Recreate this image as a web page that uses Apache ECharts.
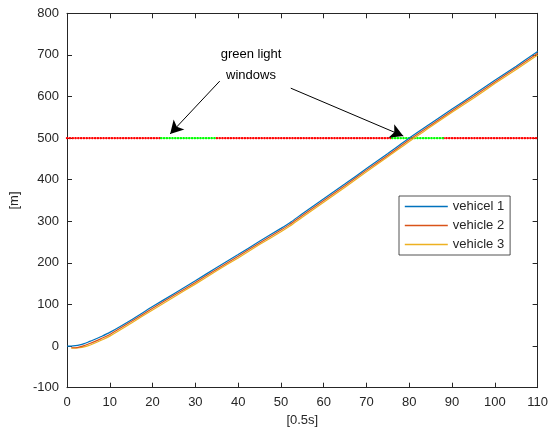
<!DOCTYPE html>
<html>
<head>
<meta charset="utf-8">
<script src="https://cdn.jsdelivr.net/npm/echarts@6/dist/echarts.min.js"></script>
<style>
  html, body { margin: 0; padding: 0; background: #fff; }
  #chart { width: 551px; height: 435px; }
</style>
</head>
<body>
<div id="chart"></div>
<script>
// time axis in [0.5s] steps, position in [m]
const xTicks = [0, 10, 20, 30, 40, 50, 60, 70, 80, 90, 100, 110];
const yTicks = [-100, 0, 100, 200, 300, 400, 500, 600, 700, 800];

const t1 = [0, 1, 2, 3, 4, 5, 6, 8, 10, 15, 20, 25, 30, 35, 40, 45, 50, 52, 55, 60, 65, 70, 75, 80, 85, 90, 95, 100, 105, 110];
const vehicle1 = [0, 0, 1, 3, 6, 10, 14, 23, 33, 63, 95, 126, 157, 189, 220, 252, 283, 296, 318, 354, 390, 427, 463, 500, 535, 570, 604, 639, 673, 708];

const t23 = [1, 2, 3, 4, 5, 6, 8, 10, 15, 20, 25, 30, 35, 40, 45, 50, 52, 55, 60, 65, 70, 75, 80, 85, 90, 95, 100, 105, 110];
const vehicle2 = [-4, -4, -2, 1, 5, 9, 18, 28, 59, 91, 122, 153, 185, 216, 248, 279, 292, 314, 350, 386, 423, 459, 496, 531, 566, 600, 635, 669, 704];
const vehicle3 = [-5, -5, -4, -2, 1, 5, 14, 24, 55, 87, 118, 149, 181, 212, 244, 275, 288, 310, 346, 382, 419, 455, 492, 527, 562, 596, 631, 665, 700];

// traffic light at 500 m: red everywhere except the green windows
const lightPos = 500;
const redSegments = [[0, 22], [35, 76], [88, 110]];
const greenWindows = [[22, 35], [76, 88]];

// annotation arrows: [fromX, fromY, toX, toY] in data units
const arrows = [
    [35.7, 637, 24.1, 510],
    [52.3, 620, 78.6, 505]
];
const noteText = ['green light', 'windows'];

const names = ['vehicel 1', 'vehicle 2', 'vehicle 3'];
const colors = ['#0072BD', '#D95319', '#EDB120'];

const zip = (xs, ys) => xs.map((x, i) => [x, ys[i]]);
// segments joined by '-' gaps so one series can hold them
const segs = list => list.flatMap((s, i) => (i ? [['-', '-']] : []).concat(s.map(x => [x, lightPos])));

const chart = echarts.init(document.getElementById('chart'));

const axisCol = '#262626';
const font = 'Liberation Sans, Arial, sans-serif';

function xAx(pos, show) {
    return {
        type: 'value', position: pos, min: 0, max: 110, interval: 10,
        axisLine: { show: true, onZero: false, lineStyle: { color: axisCol, width: 1 } },
        axisTick: { show: true, inside: true, length: 5, lineStyle: { color: axisCol } },
        axisLabel: { show: show, color: axisCol, fontSize: 13, fontFamily: font, margin: 8 },
        splitLine: { show: false }
    };
}
function yAx(pos, show) {
    return {
        type: 'value', position: pos, min: -100, max: 800, interval: 100,
        axisLine: { show: true, onZero: false, lineStyle: { color: axisCol, width: 1 } },
        axisTick: { show: true, inside: true, length: 5, lineStyle: { color: axisCol } },
        axisLabel: { show: show, color: axisCol, fontSize: 13, fontFamily: font, margin: 8 },
        splitLine: { show: false }
    };
}

const xMain = Object.assign(xAx('bottom', true), {
    name: '[0.5s]', nameLocation: 'middle', nameGap: 23,
    nameTextStyle: { color: axisCol, fontSize: 13, fontFamily: font }
});
const yMain = Object.assign(yAx('left', true), {
    name: '[m]', nameLocation: 'middle', nameGap: 46, nameRotate: 90,
    nameTextStyle: { color: axisCol, fontSize: 13, fontFamily: font }
});

const dotStyle = { width: 2.4, type: [0.3, 2.5], cap: 'round' };
const series = [
    {
        name: 'red', type: 'line', symbol: 'none', silent: true, connectNulls: false,
        data: segs(redSegments),
        lineStyle: Object.assign({ color: '#FF0000' }, dotStyle),
        z: 1
    },
    {
        name: 'green', type: 'line', symbol: 'none', silent: true, connectNulls: false,
        data: segs(greenWindows),
        lineStyle: Object.assign({ color: '#00FF00' }, dotStyle),
        z: 1
    }
];

const vData = [zip(t1, vehicle1), zip(t23, vehicle2), zip(t23, vehicle3)];
vData.forEach((d, i) => {
    series.push({
        name: names[i], type: 'line', symbol: 'none', smooth: 0.3,
        data: d,
        lineStyle: { color: colors[i], width: 1.2 },
        itemStyle: { color: colors[i] },
        z: 5 - i
    });
});

series.push({
    name: 'arrows', type: 'line', data: [], silent: true,
    markLine: {
        silent: true,
        symbol: ['none', 'arrow'],
        symbolSize: [11, 13],
        label: { show: false },
        lineStyle: { color: '#000', width: 1, type: 'solid' },
        data: arrows.map(a => [{ coord: [a[0], a[1]] }, { coord: [a[2], a[3]] }])
    },
    z: 6
});

chart.setOption({
    backgroundColor: '#fff',
    animation: false,
    grid: { left: 66.7, right: 12.7, top: 13.3, bottom: 47.3 },
    xAxis: [xMain, xAx('top', false)],
    yAxis: [yMain, yAx('right', false)],
    legend: {
        data: names,
        orient: 'vertical',
        left: 399, top: 196,
        padding: [3, 6, 3, 5],
        itemGap: 4, itemWidth: 43, itemHeight: 10,
        itemStyle: { opacity: 0 },
        lineStyle: { width: 1.6 },
        backgroundColor: '#fff',
        borderColor: axisCol, borderWidth: 0.8, borderRadius: 0,
        textStyle: { color: axisCol, fontSize: 13, fontFamily: font, lineHeight: 15 },
        selectedMode: false
    },
    graphic: [{
        type: 'text', x: 251, y: 44,
        style: {
            text: noteText.join('\n'),
            textAlign: 'center', fill: '#000', fontSize: 13, fontFamily: font, lineHeight: 21
        }
    }],
    series: series
});
</script>
</body>
</html>
